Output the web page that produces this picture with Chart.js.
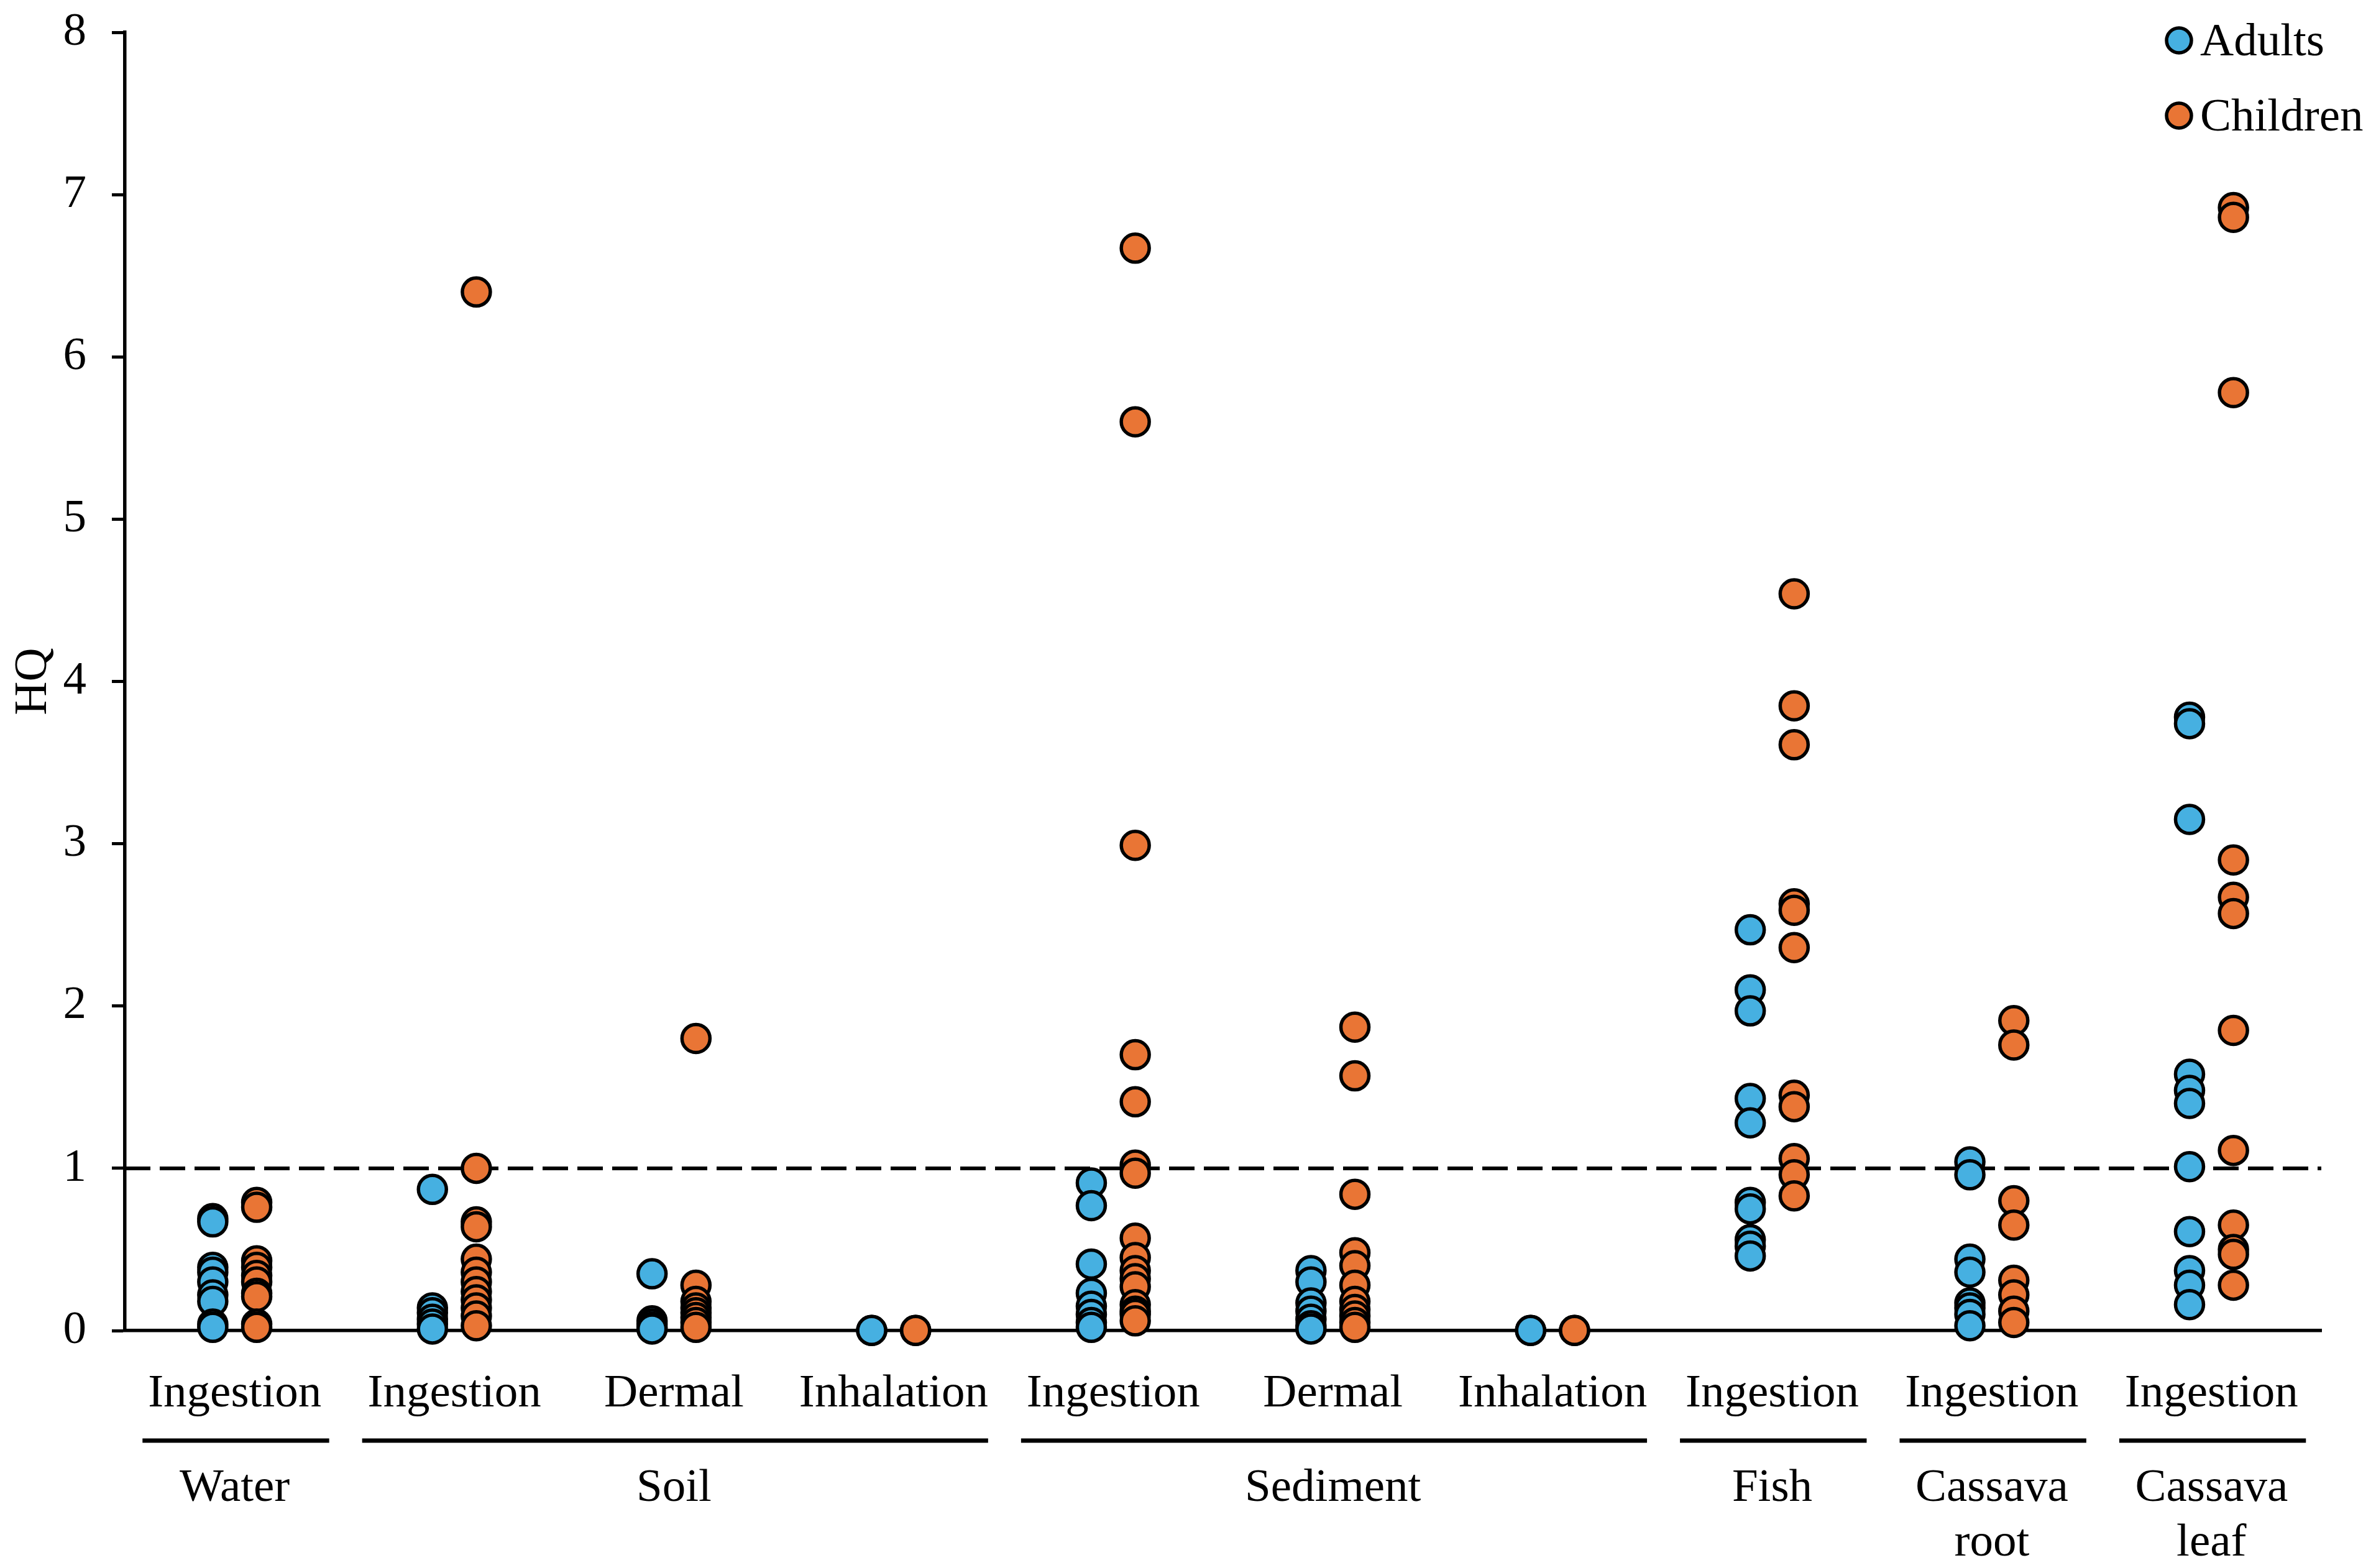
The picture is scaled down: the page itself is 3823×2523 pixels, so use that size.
<!DOCTYPE html>
<html>
<head>
<meta charset="utf-8">
<title>HQ by exposure route</title>
<script src="https://cdn.jsdelivr.net/npm/chart.js@4.4.1/dist/chart.umd.min.js"></script>
<style>
  html, body { margin: 0; padding: 0; background: #fff; }
  canvas { display: block; }
</style>
</head>
<body>
<canvas id="hqChart" width="3823" height="2523" style="width:3823px;height:2523px"></canvas>
<script>
// Exposure route under each column
const routes = ['Ingestion', 'Ingestion', 'Dermal', 'Inhalation', 'Ingestion',
  'Dermal', 'Inhalation', 'Ingestion', 'Ingestion', 'Ingestion'];

// Medium groups (label lines) and which columns they cover
const groupNames = [['Water'], ['Soil'], ['Sediment'], ['Fish'], ['Cassava', 'root'], ['Cassava', 'leaf']];
const groupSpans = [[0, 1], [1, 4], [4, 7], [7, 8], [8, 9], [9, 10]];

const yTicks = [0, 1, 2, 3, 4, 5, 6, 7, 8];
const threshold = 1;

// HQ values, one list per column
const adultsHQ = [
  [0.69, 0.67, 0.39, 0.36, 0.30, 0.22, 0.18, 0.04, 0.02],
  [0.87, 0.14, 0.11, 0.07, 0.04, 0.01],
  [0.35, 0.06, 0.04, 0.02, 0.01],
  [0.001, 0.001],
  [0.91, 0.77, 0.41, 0.23, 0.15, 0.10, 0.05, 0.02],
  [0.37, 0.30, 0.17, 0.12, 0.07, 0.03, 0.01],
  [0.001, 0.001],
  [2.47, 2.10, 1.97, 1.43, 1.28, 0.79, 0.75, 0.56, 0.52, 0.46],
  [1.04, 0.96, 0.44, 0.36, 0.17, 0.14, 0.10, 0.03],
  [3.78, 3.74, 3.15, 1.58, 1.48, 1.40, 1.01, 0.61, 0.37, 0.28, 0.16]
];

const childrenHQ = [
  [0.79, 0.76, 0.43, 0.39, 0.34, 0.30, 0.23, 0.21, 0.04, 0.02],
  [6.40, 1.00, 0.67, 0.64, 0.44, 0.36, 0.30, 0.24, 0.19, 0.14, 0.09, 0.03],
  [1.80, 0.28, 0.18, 0.14, 0.11, 0.08, 0.05, 0.02],
  [0.001, 0.001],
  [6.67, 5.60, 2.99, 1.70, 1.41, 1.02, 0.97, 0.57, 0.45, 0.37, 0.32, 0.27, 0.16, 0.12, 0.10, 0.06],
  [1.87, 1.57, 0.84, 0.48, 0.40, 0.28, 0.18, 0.13, 0.09, 0.05, 0.02],
  [0.001, 0.001],
  [4.54, 3.85, 3.61, 2.63, 2.59, 2.36, 1.45, 1.38, 1.06, 0.96, 0.83],
  [1.91, 1.76, 0.80, 0.65, 0.31, 0.22, 0.12, 0.05],
  [6.92, 6.86, 5.78, 2.90, 2.67, 2.57, 1.85, 1.11, 0.65, 0.50, 0.47, 0.28]
];

const BLUE = '#46B0E1';
const ORANGE = '#E97535';
const FONT = '"Liberation Serif", "Times New Roman", serif';

// put each column's points left (adults) or right (children) of its centre
function toPoints(cols, shift) {
  return cols.flatMap((vals, i) => vals.map(v => ({ x: i + 0.5 + shift, y: v })));
}

// labels under the axis, group rules, HQ title and the legend
const decorations = {
  id: 'decorations',
  afterDraw(chart) {
    const { ctx, chartArea, scales: { x } } = chart;
    const base = chartArea.bottom;
    ctx.save();
    ctx.fillStyle = '#000';
    ctx.strokeStyle = '#000';
    ctx.font = '75px ' + FONT;
    ctx.textAlign = 'center';
    ctx.textBaseline = 'alphabetic';

    routes.forEach((r, i) => {
      ctx.fillText(r, x.getPixelForValue(i + 0.5), base + 122);
    });

    ctx.lineWidth = 7;
    groupSpans.forEach(([a, b], g) => {
      ctx.beginPath();
      ctx.moveTo(x.getPixelForValue(a + 0.08), base + 177);
      ctx.lineTo(x.getPixelForValue(b - 0.07), base + 177);
      ctx.stroke();
      const cx = x.getPixelForValue((a + b) / 2);
      groupNames[g].forEach((line, k) => {
        ctx.fillText(line, cx, base + 274 + k * 88);
      });
    });

    // y axis title
    ctx.save();
    ctx.translate(74, (chartArea.top + chartArea.bottom) / 2);
    ctx.rotate(-Math.PI / 2);
    ctx.fillText('HQ', 0, 0);
    ctx.restore();

    // legend
    const items = [['Adults', BLUE], ['Children', ORANGE]];
    ctx.textAlign = 'left';
    items.forEach(([name, color], k) => {
      const cy = 65 + k * 121;
      ctx.beginPath();
      ctx.arc(3506, cy, 20, 0, Math.PI * 2);
      ctx.fillStyle = color;
      ctx.fill();
      ctx.lineWidth = 5.5;
      ctx.stroke();
      ctx.fillStyle = '#000';
      ctx.fillText(name, 3540, cy + 24);
    });
    ctx.restore();
  }
};

const pointStyle = {
  type: 'scatter',
  showLine: false,
  pointRadius: 22.5,
  pointBorderWidth: 5.5,
  pointBorderColor: '#000',
  clip: false,
  order: 1
};

const ctx = document.getElementById('hqChart').getContext('2d');
const chart = new Chart(ctx, {
  type: 'scatter',
  data: {
    datasets: [
      {
        type: 'line',
        label: 'HQ = 1',
        data: [{ x: 0, y: threshold }, { x: routes.length, y: threshold }],
        borderColor: '#000',
        borderWidth: 6,
        borderDash: [41, 15],
        pointRadius: 0,
        fill: false,
        order: 3
      },
      Object.assign({}, pointStyle, {
        label: 'Adults',
        data: toPoints(adultsHQ, -0.1),
        backgroundColor: BLUE,
        pointBackgroundColor: BLUE
      }),
      Object.assign({}, pointStyle, {
        label: 'Children',
        data: toPoints(childrenHQ, 0.1),
        backgroundColor: ORANGE,
        pointBackgroundColor: ORANGE
      })
    ]
  },
  options: {
    responsive: false,
    devicePixelRatio: 1,
    animation: false,
    events: [],
    layout: { padding: { left: 0, right: 88, top: 52, bottom: 0 } },
    plugins: {
      legend: { display: false },
      tooltip: { enabled: false }
    },
    scales: {
      x: {
        type: 'linear',
        min: 0,
        max: routes.length,
        ticks: { display: false },
        grid: { display: false },
        border: { display: true, color: '#000', width: 5.5 },
        afterFit(scale) { scale.height = 382; }
      },
      y: {
        min: yTicks[0],
        max: yTicks[yTicks.length - 1],
        afterBuildTicks(scale) { scale.ticks = yTicks.map(v => ({ value: v })); },
        ticks: {
          color: '#000',
          padding: 41,
          font: { family: FONT, size: 75 }
        },
        grid: {
          display: true,
          drawOnChartArea: false,
          drawTicks: true,
          tickLength: 21,
          tickWidth: 5,
          color: '#000'
        },
        border: { display: true, color: '#000', width: 5.5 },
        afterFit(scale) {
          scale.width = 201;
          scale.paddingTop = 0;
          scale.paddingBottom = 0;
        }
      }
    }
  },
  plugins: [decorations]
});
</script>
</body>
</html>
